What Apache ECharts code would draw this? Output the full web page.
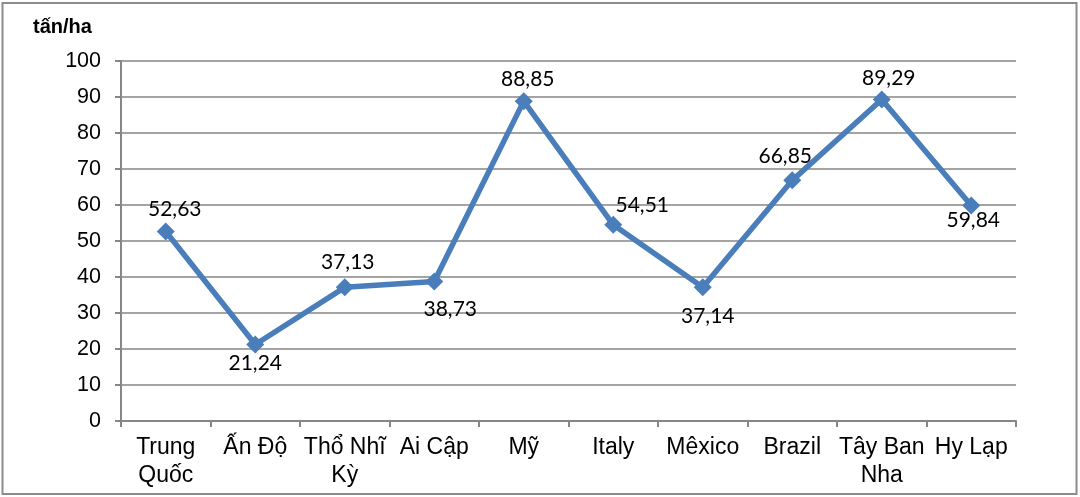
<!DOCTYPE html>
<html><head><meta charset="utf-8">
<script src="https://cdn.jsdelivr.net/npm/echarts@6/dist/echarts.min.js"></script>
<style>html,body{margin:0;padding:0;background:#fff;}#c{width:1080px;height:497px;}</style>
</head><body><div id="c"></div>
<script>
const categories = ["Trung\nQuốc", "Ấn Độ", "Thổ Nhĩ\nKỳ", "Ai Cập", "Mỹ", "Italy", "Mêxico", "Brazil", "Tây Ban\nNha", "Hy Lạp"];
const values = [52.63, 21.24, 37.13, 38.73, 88.85, 54.51, 37.14, 66.85, 89.29, 59.84];
const yTicks = [0, 10, 20, 30, 40, 50, 60, 70, 80, 90, 100];
const unit = "tấn/ha";

// label placement (style): offset of each value label from its marker
const labelOffsets = [[9, -22], [0, 19], [3, -25], [16, 28], [4, -22], [29, -20], [5, 29], [-7, -24], [7, -21], [2, 15]];

const chart = echarts.init(document.getElementById('c'));
const fmt = v => v.toFixed(2).replace('.', ',');
chart.setOption({
  animation: false,
  grid: {left: 121, right: 64, top: 61, bottom: 76},
  graphic: [
    {type: 'rect', shape: {x: 2.5, y: 3, width: 1074, height: 491}, style: {fill: 'none', stroke: '#8c8c8c', lineWidth: 2}},
    {type: 'text', left: 33, top: 17, style: {text: unit, font: 'bold 20px "Liberation Sans", Arial', fill: '#000'}}
  ],
  xAxis: {
    type: 'category', data: categories, boundaryGap: true,
    axisLine: {lineStyle: {color: '#868686', width: 2}},
    axisTick: {show: true, length: 6, lineStyle: {color: '#868686', width: 2}},
    axisLabel: {color: '#000', fontSize: 23, fontFamily: '"Liberation Sans", Arial', margin: 13, lineHeight: 28, interval: 0}
  },
  yAxis: {
    type: 'value', min: yTicks[0], max: yTicks[yTicks.length - 1], interval: 10,
    axisLine: {show: true, lineStyle: {color: '#868686', width: 2}},
    axisTick: {show: true, length: 6, lineStyle: {color: '#868686', width: 2}},
    splitLine: {lineStyle: {color: '#868686', width: 1.5}},
    axisLabel: {color: '#000', fontSize: 21.5, fontFamily: '"Liberation Sans", Arial', margin: 20}
  },
  series: [{
    type: 'line',
    data: values.map((v, i) => ({value: v, label: {offset: labelOffsets[i]}})),
    lineStyle: {color: '#4a7ebb', width: 5.5},
    itemStyle: {color: '#4a7ebb'},
    symbol: 'diamond', symbolSize: 18,
    label: {show: true, position: 'inside', formatter: p => fmt(p.value), fontSize: 21, color: '#000', fontFamily: 'Lato, "Liberation Sans"'}
  }]
});
</script></body></html>
